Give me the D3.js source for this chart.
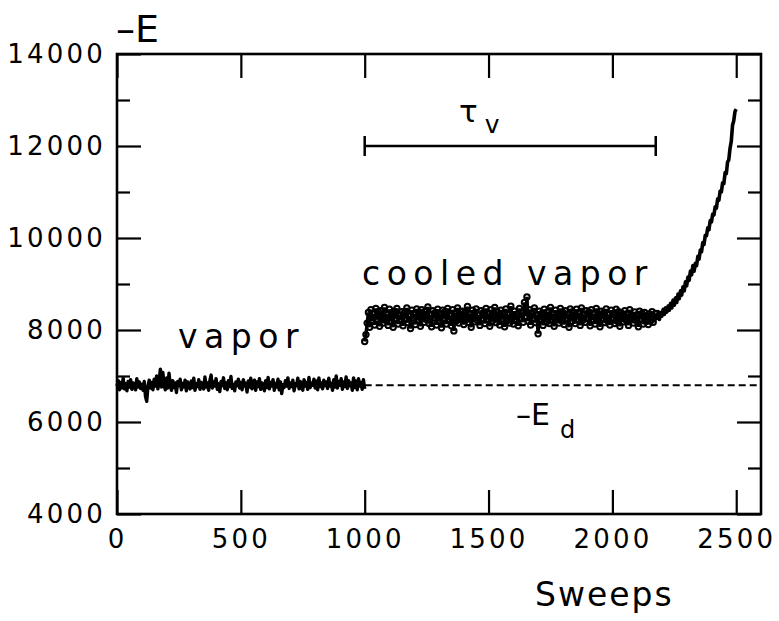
<!DOCTYPE html>
<html>
<head>
<meta charset="utf-8">
<script src="https://cdn.jsdelivr.net/npm/d3@7"></script>
<style>
  body { margin: 0; background: #fff; }
  svg text { font-family: "DejaVu Sans", sans-serif; fill: #000; }
</style>
</head>
<body>
<svg id="chart" width="779" height="621"></svg>
<script>
// vapor: sweeps 0..1000, every 5 sweeps
const vaporEnergy = [
  6780, 6900, 6700, 6860, 6740, 6950, 6720, 6830, 6680, 6880,
  6760, 6920, 6710, 6850, 6790, 6700, 6940, 6760, 6870, 6730,
  6820, 6690, 6880, 6560, 6450, 6780, 6910, 6740, 6860, 6700,
  6930, 6780, 7000, 6720, 6880, 7150, 6760, 7080, 6820, 6700,
  6960, 6740, 7060, 6800, 6690, 6900, 6750, 6850, 6640, 6880,
  6790, 6930, 6700, 6840, 6760, 6910, 6680, 6870, 6800, 6720,
  6890, 6750, 6950, 6690, 6830, 6770, 6920, 6710, 6860, 6800,
  6720, 6980, 6760, 6850, 6690, 6900, 7020, 6740, 6870, 6780,
  6940, 6710, 6830, 6660, 6880, 6790, 6960, 6730, 6850, 6700,
  6900, 6770, 6990, 6730, 6820, 6680, 6870, 6790, 6930, 6740,
  6860, 6700, 6920, 6780, 6840, 6650, 6890, 6760, 6950, 6720,
  6830, 6910, 6690, 6870, 6770, 6940, 6710, 6850, 6800, 6680,
  6900, 6750, 6970, 6720, 6860, 6780, 6920, 6690, 6840, 6760,
  6930, 6700, 6870, 6620, 6810, 6750, 6900, 6780, 6960, 6730,
  6850, 6770, 6910, 6680, 6830, 6790, 6950, 6720, 6880, 6760,
  6690, 6920, 6780, 6860, 6710, 6970, 6750, 6840, 6800, 6930,
  6740, 6890, 6700, 6960, 6770, 6850, 6720, 6910, 6790, 6870,
  6730, 6950, 6780, 6840, 6690, 6920, 6760, 7000, 6740, 6880,
  6800, 6940, 6710, 6870, 6770, 6980, 6730, 6900, 6790, 6850,
  6690, 6960, 6750, 6890, 6700, 6940, 6780, 6860, 6710, 6920,
  6720
];

// cooled vapor: sweeps 1000..2175, every 5 sweeps
const cooledEnergy = [
  7750, 7900, 8150, 8380, 8060, 8440, 8200, 8350, 8110, 8470,
  8230, 8390, 8080, 8420, 8270, 8150, 8490, 8210, 8340, 8100,
  8450, 8190, 8360, 8060, 8410, 8250, 8470, 8130, 8320, 8220,
  8400, 8090, 8370, 8240, 8480, 8160, 8300, 8030, 8430, 8260,
  8350, 8120, 8460, 8210, 8390, 8080, 8440, 8280, 8170, 8410,
  8230, 8500, 8140, 8330, 8070, 8420, 8260, 8380, 8110, 8450,
  8190, 8360, 8050, 8430, 8250, 8400, 8130, 8470, 8220, 8310,
  8090, 8440, 7980, 8370, 8200, 8480, 8150, 8340, 8270, 8410,
  8120, 8390, 8230, 8510, 8170, 8350, 8060, 8430, 8280, 8180,
  8460, 8210, 8320, 8100, 8420, 8250, 8380, 8140, 8470, 8230,
  8360, 8080, 8440, 8190, 8300, 8490, 8160, 8400, 8260, 8110,
  8430, 8240, 8370, 8070, 8460, 8200, 8330, 8150, 8520, 8280,
  8130, 8410, 8220, 8350, 8090, 8470, 8260, 8380, 8170, 8600,
  8300, 8720, 8190, 8440, 8110, 8370, 8250, 8480, 8160, 8330,
  7920, 8410, 8230, 8360, 8100, 8450, 8270, 8180, 8400, 8140,
  8490, 8220, 8350, 8080, 8430, 8260, 8310, 8150, 8470, 8200,
  8380, 8120, 8420, 8250, 8340, 8060, 8460, 8190, 8400, 8280,
  8140, 8450, 8230, 8370, 8100, 8480, 8210, 8330, 8170, 8420,
  8260, 8390, 8090, 8440, 8220, 8350, 8130, 8470, 8250, 8310,
  8070, 8410, 8240, 8380, 8160, 8460, 8200, 8330, 8110, 8430,
  8270, 8360, 8140, 8450, 8190, 8400, 8080, 8370, 8250, 8180,
  8420, 8220, 8350, 8100, 8440, 8260, 8310, 8150, 8390, 8210,
  8330, 8070, 8410, 8240, 8360, 8130, 8380, 8190, 8300, 8120,
  8350, 8200, 8400, 8170, 8280, 8360
];

// growth: sweeps 2180..2500, every 5 sweeps
const riseEnergy = [
  8250, 8400, 8230, 8380, 8300, 8450, 8340, 8480, 8390, 8520,
  8430, 8580, 8480, 8650, 8540, 8700, 8600, 8780, 8680, 8850,
  8760, 8940, 8850, 9050, 8960, 9150, 9080, 9280, 9200, 9400,
  9280, 9450, 9400, 9600, 9540, 9740, 9700, 9900, 9860, 10060,
  10050, 10220, 10180, 10380, 10350, 10520, 10500, 10680, 10650, 10850,
  10820, 11020, 11000, 11200, 11180, 11420, 11400, 11650, 11700, 11950,
  12100, 12450, 12550, 12750, 12800
];

const dropletEnergy = 6800;
const tauStart = 1000;
const tauEnd = 2175;
const tauLevel = 12000;

const xTicks = [0, 500, 1000, 1500, 2000, 2500];
const yMajorTicks = [4000, 6000, 8000, 10000, 12000, 14000];
const yMinorTicks = [5000, 7000, 9000, 11000, 13000];

const vapor = vaporEnergy.map((e, i) => [i * 5, e]);
const cooled = cooledEnergy.map((e, i) => [1000 + i * 5, e]);
const rise = [cooled[cooled.length - 1]].concat(riseEnergy.map((e, i) => [2180 + i * 5, e]));

const svg = d3.select('#chart');
const plotL = 117, plotR = 761, plotT = 54, plotB = 514;

const x = d3.scaleLinear().domain([0, 2600]).range([plotL, plotR]);
const y = d3.scaleLinear().domain([4000, 14000]).range([plotB, plotT]);

const axisG = (axis, tx, ty) => {
  const g = svg.append('g')
    .attr('transform', `translate(${tx},${ty})`)
    .call(axis);
  g.select('.domain').remove();
  g.selectAll('line').attr('stroke', '#000').attr('stroke-width', 2.2);
  g.selectAll('text')
    .style('font-family', '"DejaVu Sans", sans-serif')
    .attr('fill', '#000')
    .attr('font-size', 26)
    .attr('letter-spacing', 3.2);
  return g;
};

const fmt = d3.format('d');
axisG(d3.axisBottom(x).tickValues(xTicks).tickSize(-24).tickPadding(16).tickFormat(fmt), 0, plotB);
axisG(d3.axisTop(x).tickValues(xTicks).tickSize(-24).tickFormat(''), 0, plotT);
axisG(d3.axisLeft(y).tickValues(yMajorTicks).tickSize(-24).tickPadding(11).tickFormat(fmt), plotL, 0);
axisG(d3.axisLeft(y).tickValues(yMinorTicks).tickSize(-13).tickFormat(''), plotL, 0);
axisG(d3.axisRight(y).tickValues(yMajorTicks).tickSize(-24).tickFormat(''), plotR, 0);
axisG(d3.axisRight(y).tickValues(yMinorTicks).tickSize(-13).tickFormat(''), plotR, 0);

svg.append('rect')
  .attr('x', plotL).attr('y', plotT)
  .attr('width', plotR - plotL).attr('height', plotB - plotT)
  .attr('fill', 'none').attr('stroke', '#000').attr('stroke-width', 2.6);

const line = d3.line().x(d => x(d[0])).y(d => y(d[1]));

svg.append('line')
  .attr('x1', x(1000)).attr('x2', plotR)
  .attr('y1', y(dropletEnergy)).attr('y2', y(dropletEnergy))
  .attr('stroke', '#000').attr('stroke-width', 2)
  .attr('stroke-dasharray', '7,4');

svg.append('path')
  .attr('d', line(vapor))
  .attr('fill', 'none').attr('stroke', '#000').attr('stroke-width', 3.4)
  .attr('stroke-linejoin', 'round');

svg.append('path')
  .attr('d', line(cooled))
  .attr('fill', 'none').attr('stroke', '#000').attr('stroke-width', 3.4);

svg.selectAll('.pt')
  .data(cooled)
  .enter()
  .append('circle')
  .attr('cx', d => x(d[0]))
  .attr('cy', d => y(d[1]))
  .attr('r', 2.7)
  .attr('fill', 'none').attr('stroke', '#000').attr('stroke-width', 2);

svg.append('path')
  .attr('d', line(rise))
  .attr('fill', 'none').attr('stroke', '#000').attr('stroke-width', 3.6)
  .attr('stroke-linejoin', 'round');

// tau_v bar
svg.append('line')
  .attr('x1', x(tauStart)).attr('x2', x(tauEnd))
  .attr('y1', y(tauLevel)).attr('y2', y(tauLevel))
  .attr('stroke', '#000').attr('stroke-width', 2.5);
[tauStart, tauEnd].forEach(t => {
  svg.append('line')
    .attr('x1', x(t)).attr('x2', x(t))
    .attr('y1', y(tauLevel) - 10).attr('y2', y(tauLevel) + 10)
    .attr('stroke', '#000').attr('stroke-width', 2.5);
});

const label = (tx, ty, size, str, ls) => svg.append('text')
  .attr('x', tx).attr('y', ty)
  .attr('font-size', size)
  .attr('letter-spacing', ls || 0)
  .text(str);

const tau = svg.append('text').attr('x', 459).attr('y', 122).attr('font-size', 31);
tau.append('tspan').text('τ');
tau.append('tspan').attr('font-size', 25).attr('dx', 7).attr('dy', 11).text('v');

label(116, 42, 38, '–E');
const ed = svg.append('text').attr('x', 516).attr('y', 425).attr('font-size', 30);
ed.append('tspan').text('–E');
ed.append('tspan').attr('font-size', 24).attr('dx', 10).attr('dy', 13).text('d');

label(178, 348, 33, 'vapor', 6.5);
label(362, 285, 33, 'cooled vapor', 6.5);
label(535, 606, 33, 'Sweeps', 2);
</script>
</body>
</html>
